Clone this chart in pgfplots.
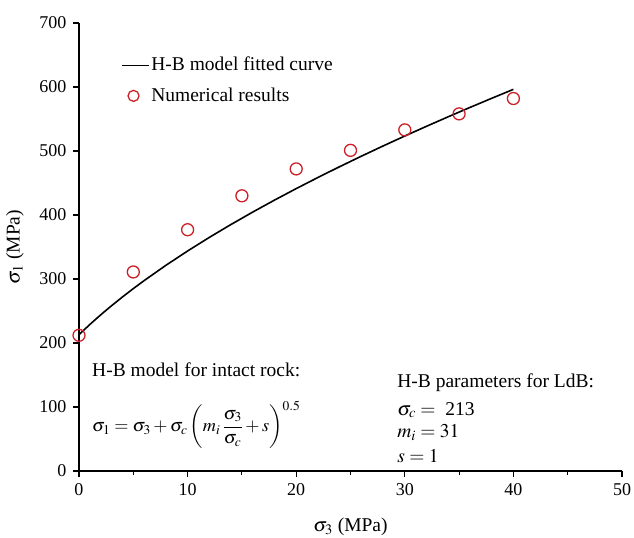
\documentclass[border=0pt]{standalone}
\usepackage{mathptmx}
\usepackage{fontspec}
\setmainfont{Liberation Serif}
\usepackage{pgfplots}
\pgfplotsset{compat=1.18}
\definecolor{ptred}{RGB}{204,32,38}

\pgfplotsset{
  linelegend/.style={legend image code/.code={\draw[##1] (0bp,0bp) -- (27bp,0bp);}},
  marklegend/.style={legend image code/.code={\draw[mark repeat=2,mark phase=2,##1,mark size=5.5bp] plot coordinates {(0bp,0bp)(12bp,0bp)(24bp,0bp)};}},
}
\newcommand\txtfont{\fontsize{19.5bp}{23bp}\selectfont}

% Hoek-Brown fitted curve, sigma_c = 213, m_i = 31, s = 1
\pgfplotstableread{
x y
0 213.00
1 228.97
2 244.02
3 258.30
4 271.92
5 284.97
6 297.52
8 321.36
10 343.76
12 364.99
14 385.23
16 404.61
18 423.25
20 441.22
22 458.62
24 475.49
26 491.88
28 507.85
30 523.41
32 538.62
34 553.49
36 568.05
38 582.32
40 596.32
}\hbcurve

% numerical results
\pgfplotstableread{
x y
0 212
5 311
10 377
15 430
20 472
25 501
30 533
35 558
40 582
}\numres

\begin{document}
\txtfont
\begin{tikzpicture}
\begin{axis}[
  scale only axis, width=543bp, height=448bp,
  xmin=0, xmax=50, ymin=0, ymax=700,
  axis lines=left,
  axis line style={-, line width=1.1bp},
  xtick={0,10,...,50}, minor xtick={5,15,...,45},
  ytick={0,100,...,700},
  tick align=outside, major tick length=6bp, minor tick length=4bp,
  every tick/.style={line width=1.1bp, black},
  ticklabel style={font=\fontsize{18bp}{22bp}\selectfont},
  /pgf/number format/assume math mode=true,
  xlabel={$\sigma_3$ (MPa)},
  ylabel={$\sigma_1$ (MPa)},
  label style={font=\fontsize{19bp}{22bp}\selectfont},
  every axis x label/.style={at={(axis description cs:0.5,-0.124)}, anchor=center},
  every axis y label/.style={at={(axis description cs:-0.118,0.5)}, anchor=center, rotate=90},
  legend style={at={(axis description cs:0.0765,0.929)}, anchor=north west,
    draw=none, fill=none, inner sep=0pt, row sep=10bp,
    font=\txtfont, cells={anchor=west},
    /tikz/every even column/.append style={column sep=3bp}},
  clip=false,
]
\addplot[black, line width=1.6bp, linelegend] table {\hbcurve};
\addlegendentry{H-B model fitted curve}
\addplot[only marks, mark=o, mark size=6bp, ptred, line width=1.3bp, marklegend] table {\numres};
\addlegendentry{Numerical results}

\draw[line width=1.6bp] (axis cs:0,0) -- (axis cs:28.4,0);

\node[anchor=base west, inner sep=0pt] at (axis cs:1.2,148) {H-B model for intact rock:};
\node[anchor=west, inner sep=0pt, font=\fontsize{18.2bp}{22bp}\selectfont] at (axis cs:1.2,72)
  {$\displaystyle\sigma_1=\sigma_3+\sigma_c\left(m_i\,\frac{\sigma_3}{\sigma_c}+s\right)^{0.5}$};

\node[anchor=base west, inner sep=0pt] at (axis cs:29.3,131) {H-B parameters for LdB:};
\node[anchor=base west, inner sep=0pt] at (axis cs:29.3,87.5) {$\sigma_c=$\enspace 213};
\node[anchor=base west, inner sep=0pt] at (axis cs:29.3,51.6) {$m_i = 31$};
\node[anchor=base west, inner sep=0pt] at (axis cs:29.3,14) {$s = 1$};
\end{axis}
\pgfresetboundingbox
\path ([shift={(-79bp,-67bp)}]current axis.south west) rectangle ([shift={(12bp,23bp)}]current axis.north east);
\end{tikzpicture}
\end{document}
